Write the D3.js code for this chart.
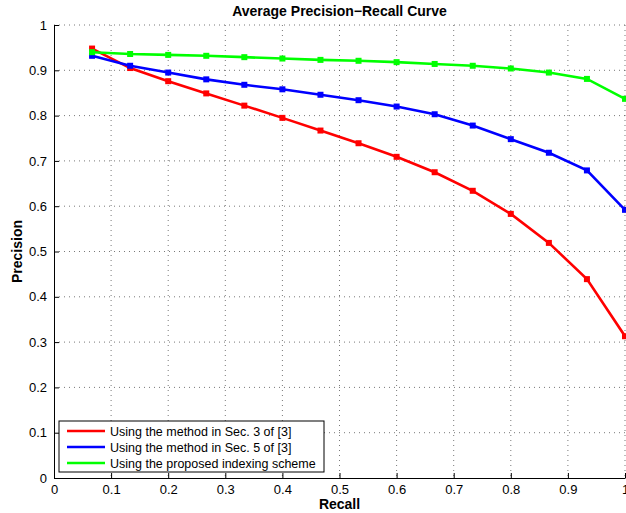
<!DOCTYPE html>
<html>
<head>
<meta charset="utf-8">
<script src="https://cdn.jsdelivr.net/npm/d3@7"></script>
<style>
  body { margin: 0; background: #fff; }
  text { font-family: "Liberation Sans", Arial, sans-serif; }
</style>
</head>
<body>
<div id="chart"></div>
<script>
// recall points (k/15)
const recall = [1, 2, 3, 4, 5, 6, 7, 8, 9, 10, 11, 12, 13, 14, 15].map(k => k / 15)
const sec3 = [0.948, 0.905, 0.876, 0.849, 0.822, 0.795, 0.767, 0.739, 0.709, 0.675, 0.634, 0.583, 0.519, 0.439, 0.313]
const sec5 = [0.932, 0.910, 0.895, 0.880, 0.868, 0.858, 0.846, 0.834, 0.820, 0.803, 0.778, 0.748, 0.718, 0.679, 0.592]
const proposed = [0.940, 0.936, 0.934, 0.932, 0.929, 0.926, 0.923, 0.921, 0.918, 0.914, 0.910, 0.904, 0.895, 0.881, 0.837]
const seriesNames = ['Using the method in Sec. 3 of [3]', 'Using the method in Sec. 5 of [3]', 'Using the proposed indexing scheme']
const colors = ['#ff0000', '#0000ff', '#00ff00']
const xTicks = [0, 0.1, 0.2, 0.3, 0.4, 0.5, 0.6, 0.7, 0.8, 0.9, 1]
const yTicks = [0, 0.1, 0.2, 0.3, 0.4, 0.5, 0.6, 0.7, 0.8, 0.9, 1]

const margin = {top: 25, right: 1, bottom: 35, left: 54}
const width = 626 - margin.left - margin.right
const height = 513 - margin.top - margin.bottom

const x = d3.scaleLinear().domain([0, 1]).range([0, width])
const y = d3.scaleLinear().domain([0, 1]).range([height, 0])

const svg = d3.select('#chart').append('svg')
  .attr('width', 626)
  .attr('height', 513)
const g = svg.append('g')
  .attr('transform', 'translate(' + margin.left + ',' + margin.top + ')')

// dotted grid
g.append('g').selectAll('line').data(xTicks.slice(1)).join('line')
  .attr('x1', d => x(d)).attr('x2', d => x(d))
  .attr('y1', 0).attr('y2', height)
  .attr('stroke', '#555').attr('stroke-width', 0.8)
  .attr('stroke-dasharray', '1,4')
g.append('g').selectAll('line').data(yTicks.slice(1)).join('line')
  .attr('x1', 0).attr('x2', width)
  .attr('y1', d => y(d)).attr('y2', d => y(d))
  .attr('stroke', '#555').attr('stroke-width', 0.8)
  .attr('stroke-dasharray', '1,4')

// axes, ticks inside
const xAxis = g.append('g')
  .attr('transform', 'translate(0,' + height + ')')
  .call(d3.axisBottom(x).tickValues(xTicks).tickFormat(d3.format('')).tickSizeInner(-5).tickSizeOuter(0).tickPadding(7))
const yAxis = g.append('g')
  .call(d3.axisLeft(y).tickValues(yTicks).tickFormat(d3.format('')).tickSizeInner(-5).tickSizeOuter(0).tickPadding(7))
;[xAxis, yAxis].forEach(a => {
  a.selectAll('text').attr('font-size', 13).attr('fill', '#000')
  a.select('.domain').attr('stroke', '#000')
  a.selectAll('.tick line').attr('stroke', '#000')
})

const line = d3.line()
  .x(d => x(d[0]))
  .y(d => y(d[1]))

const allSeries = [sec3, sec5, proposed]
allSeries.forEach(function(vals, i) {
  const pts = recall.map((r, j) => [r, vals[j]])
  g.append('path')
    .datum(pts)
    .attr('fill', 'none')
    .attr('stroke', colors[i])
    .attr('stroke-width', 2.6)
    .attr('d', line)
  g.append('g').selectAll('rect').data(pts).join('rect')
    .attr('x', d => x(d[0]) - 3)
    .attr('y', d => y(d[1]) - 3)
    .attr('width', 6).attr('height', 6)
    .attr('fill', colors[i])
})

// title and labels
svg.append('text')
  .attr('x', margin.left + width / 2).attr('y', 16)
  .attr('text-anchor', 'middle')
  .attr('font-size', 14).attr('font-weight', 'bold')
  .text('Average Precision\u2212Recall Curve')
svg.append('text')
  .attr('x', margin.left + width / 2).attr('y', 509)
  .attr('text-anchor', 'middle')
  .attr('font-size', 14).attr('font-weight', 'bold')
  .text('Recall')
svg.append('text')
  .attr('transform', 'translate(22,' + (margin.top + height / 2) + ') rotate(-90)')
  .attr('text-anchor', 'middle')
  .attr('font-size', 14).attr('font-weight', 'bold')
  .text('Precision')

// legend
const legend = svg.append('g').attr('transform', 'translate(59,421)')
legend.append('rect')
  .attr('width', 265).attr('height', 51)
  .attr('fill', '#fff').attr('stroke', '#000').attr('stroke-width', 1)
seriesNames.forEach(function(name, i) {
  const ly = 10 + i * 16
  legend.append('line')
    .attr('x1', 8).attr('x2', 46)
    .attr('y1', ly).attr('y2', ly)
    .attr('stroke', colors[i]).attr('stroke-width', 2.6)
  legend.append('text')
    .attr('x', 51).attr('y', ly + 4.5)
    .attr('font-size', 12.5)
    .text(name)
})
</script>
</body>
</html>
